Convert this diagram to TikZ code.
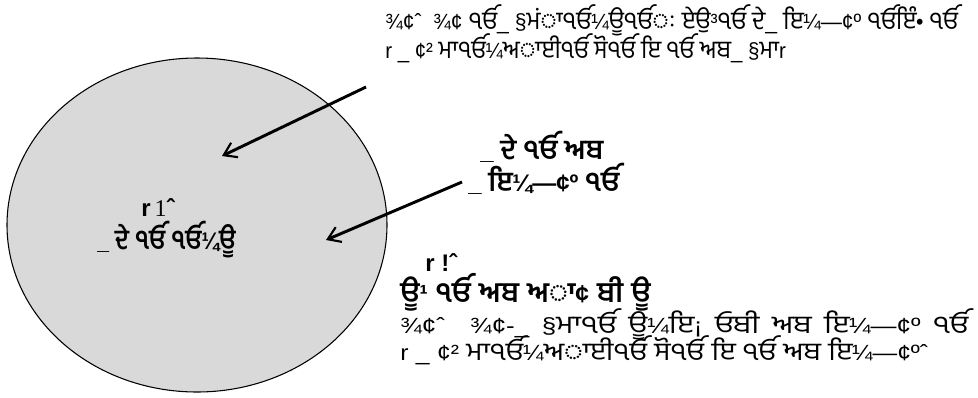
\documentclass[tikz,border=0pt]{standalone}
\usepackage{fontspec}
\usepackage{graphicx}
\setmainfont{Liberation Sans}
\newfontfamily\gur[Script=Gurmukhi,Scale=1.15]{Hind Jalandhar}
\newfontfamily\serifnum{Liberation Serif}
\newcommand{\g}[1]{{\gur #1}}
\newcommand{\wsp}[2]{{\spaceskip=#1\relax #2}}
\usetikzlibrary{arrows.meta,shapes.geometric}
\begin{document}
\begin{tikzpicture}[x=0.75pt,y=-0.75pt,
  txt/.style={anchor=west,inner sep=0pt,font=\fontsize{16.5}{18}\selectfont},
  btxt/.style={anchor=west,inner sep=0pt,font=\fontsize{18}{20}\selectfont\bfseries},
  arr/.style={line width=2.2pt,-{Straight Barb[length=9pt,width=12pt,line width=1.6pt]}}]
\useasboundingbox (0,0) rectangle (978,397);
\node[draw=black,line width=0.8pt,fill=black!15,ellipse,minimum width=380*0.75pt,minimum height=334*0.75pt,inner sep=0pt] (circ) at (197,225) {};
% top block
\node[txt] (t1) at (385,20) {\scalebox{0.96}[1]{¾¢ˆ\ \ ¾¢ \g{ੴ}\_ §\g{ਮਂਾੴ}¼\g{ਊੴਃ} \g{ਏਉ}³\g{ੴ ਦੇ}\_ \g{ਇ}¼—¢º \g{ੴਇੰ}• \g{ੴ}}};
\node[txt] (t2) at (385,48) {\scalebox{0.93}[1]{r \_ ¢² \g{ਮਾੴ}¼\g{ਅਾਈੴ} \g{ਸੋੴ} \g{ਇ ੴ ਅਬ}\_ §\g{ਮਾ}r}};
% middle block
\node[btxt] (m1) at (480,147) {\_ \g{ਦੇ ੴ ਅਬ}};
\node[btxt] (m2) at (468,179) {\_ \g{ਇ}¼—¢º \g{ੴ}};
% inside ellipse
\node[btxt,anchor=center] (e1) at (158,208) {r\,{\serifnum\mdseries 1}ˆ};
\node[btxt] (e2) at (97,240) {\scalebox{0.88}[1]{\_ \g{ਦੇ ੴ ੴ}¼\g{ਊ}}};
% right bottom block
\node[btxt] (r1) at (425,263) {r !ˆ};
\node[btxt,font=\fontsize{18.5}{20}\selectfont\bfseries] (r2) at (400,292) {\wsp{6pt}{\g{ਊ}¹ \g{ੴ ਅਬ ਅਾ}¢ \g{ਬੀ ਊ}}};
\node[txt] (r3) at (400,324) {\scalebox{1.18}[1]{\wsp{8pt}{¾¢ˆ\ \ ¾¢-\_ §\g{ਮਾੴ ਊ}¼\g{ਇ}¡ \g{ਓਬੀ ਅਬ ਇ}¼—¢º \g{ੴ}}}};
\node[txt] (r4) at (400,350) {\scalebox{1.12}[1]{\wsp{5pt}{r \_ ¢² \g{ਮਾੴ}¼\g{ਅਾਈੴ} \g{ਸੋੴ} \g{ਇ ੴ ਅਬ ਇ}¼—¢ºˆ}}};
% arrows
\coordinate (a1s) at (366,87);
\coordinate (a1e) at (222,156);
\coordinate (a2s) at (462,182);
\coordinate (a2e) at (326,240);
\draw[arr] (a1s) -- (a1e);
\draw[arr] (a2s) -- (a2e);
\end{tikzpicture}
\end{document}
